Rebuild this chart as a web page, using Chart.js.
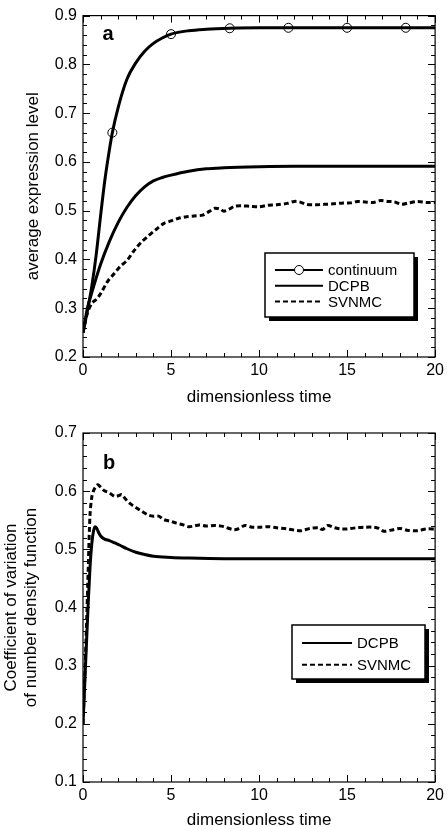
<!DOCTYPE html>
<html>
<head>
<meta charset="utf-8">
<script src="https://cdn.jsdelivr.net/npm/chart.js@4.4.1/dist/chart.umd.min.js"></script>
<style>
  html, body { margin: 0; padding: 0; background: #fff; overflow: hidden; }
  #wrapA { position: absolute; left: 0; top: 0; width: 448px; height: 413px; }
  #wrapB { position: absolute; left: 0; top: 413px; width: 448px; height: 413px; }
</style>
</head>
<body>
<div id="wrapA"><canvas id="chartA" width="448" height="413"></canvas></div>
<div id="wrapB"><canvas id="chartB" width="448" height="413"></canvas></div>
<script>
// ---------- Data ----------
const xTickLabels = [0, 5, 10, 15, 20];
const yTickLabelsA = [0.2, 0.3, 0.4, 0.5, 0.6, 0.7, 0.8, 0.9];
const yTickLabelsB = [0.1, 0.2, 0.3, 0.4, 0.5, 0.6, 0.7];

// Panel a: continuum
const contT = [0, 0.25, 0.5, 0.75, 1.0, 1.25, 1.5, 1.667, 2, 2.5, 3, 3.5, 4, 4.5, 5, 6, 7, 8.333, 10, 11.667, 15, 18.333, 20];
const contV = [0.25, 0.295, 0.345, 0.41, 0.49, 0.565, 0.625, 0.66, 0.712, 0.77, 0.803, 0.827, 0.843, 0.854, 0.862, 0.869, 0.872, 0.874, 0.875, 0.875, 0.875, 0.875, 0.875];
const contMarkerT = [1.667, 5, 8.333, 11.667, 15, 18.333];

// Panel a: DCPB
const dcpbAT = [0, 0.25, 0.5, 1, 1.5, 2, 2.5, 3, 3.5, 4, 4.5, 5, 6, 7, 8, 10, 12, 20];
const dcpbAV = [0.25, 0.30, 0.332, 0.39, 0.437, 0.476, 0.507, 0.531, 0.549, 0.561, 0.568, 0.573, 0.581, 0.586, 0.588, 0.590, 0.591, 0.591];

// Panel a: SVNMC
const svnAT = [0, 0.25, 0.5, 0.75, 1, 1.4, 1.7, 2.1, 2.5, 2.9, 3.3, 3.7, 4.1, 4.6, 5, 5.4, 5.8, 6.3, 6.8, 7.2, 7.5, 7.8, 8.0, 8.3, 8.6, 9.0, 9.5, 10, 10.5, 11, 11.6, 12.0, 12.3, 12.7, 13.2, 13.7, 14.2, 14.8, 15.2, 15.6, 16.0, 16.5, 16.9, 17.3, 17.7, 18.1, 18.5, 19.0, 19.5, 20];
const svnAV = [0.25, 0.29, 0.31, 0.318, 0.33, 0.355, 0.368, 0.385, 0.398, 0.418, 0.435, 0.448, 0.46, 0.474, 0.479, 0.484, 0.487, 0.489, 0.491, 0.499, 0.505, 0.503, 0.499, 0.503, 0.509, 0.51, 0.509, 0.508, 0.511, 0.512, 0.515, 0.519, 0.518, 0.513, 0.512, 0.513, 0.514, 0.516, 0.516, 0.519, 0.518, 0.517, 0.521, 0.519, 0.518, 0.513, 0.516, 0.519, 0.517, 0.517];

// Panel b: DCPB
const dcpbBT = [0, 0.1, 0.2, 0.3, 0.4, 0.5, 0.6, 0.7, 0.8, 0.9, 1.0, 1.2, 1.5, 1.8, 2.1, 2.5, 3, 3.5, 4, 5, 6, 8, 20];
const dcpbBV = [0.2, 0.27, 0.34, 0.41, 0.47, 0.51, 0.532, 0.539, 0.535, 0.528, 0.523, 0.518, 0.515, 0.511, 0.507, 0.501, 0.495, 0.491, 0.488, 0.486, 0.485, 0.484, 0.484];

// Panel b: SVNMC
const svnBT = [0, 0.1, 0.2, 0.3, 0.4, 0.5, 0.6, 0.75, 0.85, 1.0, 1.2, 1.5, 1.8, 2.0, 2.2, 2.4, 2.7, 3.0, 3.3, 3.7, 4.0, 4.3, 4.6, 5.0, 5.3, 5.7, 6.0, 6.3, 6.6, 7.0, 7.5, 8.0, 8.5, 8.8, 9.2, 9.6, 10.0, 10.5, 11.0, 11.6, 12.0, 12.4, 12.9, 13.4, 13.6, 13.9, 14.3, 14.7, 15.0, 15.5, 16.0, 16.5, 16.8, 17.1, 17.5, 18.0, 18.4, 19.0, 19.5, 20];
const svnBV = [0.2, 0.28, 0.37, 0.47, 0.56, 0.59, 0.601, 0.609, 0.611, 0.607, 0.601, 0.597, 0.591, 0.592, 0.594, 0.587, 0.578, 0.572, 0.566, 0.559, 0.557, 0.557, 0.551, 0.548, 0.545, 0.542, 0.539, 0.54, 0.542, 0.54, 0.541, 0.539, 0.534, 0.535, 0.541, 0.538, 0.538, 0.539, 0.537, 0.535, 0.533, 0.532, 0.536, 0.537, 0.534, 0.541, 0.537, 0.535, 0.535, 0.537, 0.538, 0.538, 0.536, 0.531, 0.533, 0.536, 0.533, 0.532, 0.535, 0.535];

// ---------- Helpers ----------
const pts = (ts, vs) => ts.map((t, i) => ({ x: t, y: vs[i] }));
const FONT = "'Liberation Sans', Arial, Helvetica, sans-serif";
Chart.defaults.font.family = FONT;
Chart.defaults.color = '#000';
Chart.defaults.animation = false;

const frameTicks = {
  id: 'frameTicks',
  afterDatasetsDraw(chart, args, o) {
    const { ctx, chartArea: { left, right, top, bottom }, scales: { x, y } } = chart;
    ctx.save();
    ctx.strokeStyle = '#000';
    ctx.lineWidth = 1.2;
    ctx.strokeRect(left, top, right - left, bottom - top);
    ctx.lineWidth = 1;
    ctx.beginPath();
    const nx = Math.round((x.max - x.min) / o.xMinor);
    for (let i = 0; i <= nx; i++) {
      const v = x.min + i * o.xMinor;
      const px = Math.round(x.getPixelForValue(v)) + 0.5;
      const major = Math.abs(v / o.xMajor - Math.round(v / o.xMajor)) < 1e-6;
      const len = major ? 7 : 4;
      ctx.moveTo(px, bottom); ctx.lineTo(px, bottom - len);
      ctx.moveTo(px, top); ctx.lineTo(px, top + len);
    }
    const ny = Math.round((y.max - y.min) / o.yMinor);
    for (let i = 0; i <= ny; i++) {
      const v = y.min + i * o.yMinor;
      const py = Math.round(y.getPixelForValue(v)) + 0.5;
      const r = (v - y.min) / o.yMajor;
      const major = Math.abs(r - Math.round(r)) < 1e-6;
      const len = major ? 7 : 4;
      ctx.moveTo(left, py); ctx.lineTo(left + len, py);
      ctx.moveTo(right, py); ctx.lineTo(right - len, py);
    }
    ctx.stroke();
    ctx.restore();
  },
  afterDraw(chart, args, o) {
    const { ctx } = chart;
    ctx.save();
    // panel letter
    ctx.fillStyle = '#000';
    ctx.font = 'bold 20px ' + FONT;
    ctx.textAlign = 'center';
    ctx.textBaseline = 'alphabetic';
    ctx.fillText(o.letter, o.letterX, o.letterY);
    // legend
    const L = o.legend;
    ctx.fillStyle = '#000';
    ctx.fillRect(L.x + 4, L.y + 4, L.w, L.h);
    ctx.fillStyle = '#fff';
    ctx.fillRect(L.x, L.y, L.w, L.h);
    ctx.strokeStyle = '#000';
    ctx.lineWidth = 1.5;
    ctx.strokeRect(L.x, L.y, L.w, L.h);
    ctx.font = '15px ' + FONT;
    ctx.textAlign = 'left';
    ctx.textBaseline = 'middle';
    L.order.forEach((di, k) => {
      const ds = chart.data.datasets[di];
      const ry = L.rowY0 + k * L.rowGap;
      ctx.beginPath();
      ctx.lineWidth = 2;
      ctx.setLineDash(ds.borderDash || []);
      ctx.moveTo(L.lx1, ry); ctx.lineTo(L.lx2, ry);
      ctx.stroke();
      ctx.setLineDash([]);
      if (ds.legendMarker) {
        ctx.beginPath();
        ctx.lineWidth = 1;
        ctx.fillStyle = '#fff';
        ctx.arc((L.lx1 + L.lx2) / 2, ry, 4.5, 0, Math.PI * 2);
        ctx.fill();
        ctx.stroke();
      }
      ctx.fillStyle = '#000';
      ctx.fillText(ds.label, L.tx, ry + 1);
    });
    ctx.restore();
  }
};

function baseScales(yMin, yMax, yTitle, yTitlePad, yTitleLH, xTitlePad, xHeight, yTickVals) {
  return {
    x: {
      type: 'linear', min: 0, max: 20,
      afterBuildTicks: (s) => { s.ticks = xTickLabels.map(v => ({ value: v })); },
      ticks: { padding: 4, font: { size: 16 }, callback: (v) => String(v), maxRotation: 0, autoSkip: false },
      grid: { display: false, drawTicks: false },
      border: { display: false },
      title: { display: true, text: 'dimensionless time', font: { size: 17, lineHeight: 1 }, padding: { top: 0, bottom: xTitlePad } },
      afterFit: (s) => { s.height = xHeight; }
    },
    y: {
      type: 'linear', min: yMin, max: yMax,
      afterBuildTicks: (s) => { s.ticks = yTickVals.map(v => ({ value: v })); },
      ticks: { padding: 6, font: { size: 16 }, callback: (v) => Number(v).toFixed(1), autoSkip: false },
      grid: { display: false, drawTicks: false },
      border: { display: false },
      title: { display: true, text: yTitle, font: { size: 17, lineHeight: yTitleLH }, padding: { top: yTitlePad, bottom: 0 } },
      afterFit: (s) => { s.width = 83; }
    }
  };
}

// ---------- Chart a ----------
new Chart(document.getElementById('chartA'), {
  type: 'line',
  data: {
    datasets: [
      {
        label: 'continuum', data: pts(contT, contV), borderColor: '#000', borderWidth: 3,
        cubicInterpolationMode: 'monotone', fill: false, legendMarker: true,
        pointRadius: (c) => contMarkerT.includes(contT[c.dataIndex]) ? 4.5 : 0,
        pointBorderWidth: 1, pointBorderColor: '#000', pointBackgroundColor: 'rgba(0,0,0,0)', pointStyle: 'circle'
      },
      {
        label: 'DCPB', data: pts(dcpbAT, dcpbAV), borderColor: '#000', borderWidth: 3,
        cubicInterpolationMode: 'monotone', fill: false, pointRadius: 0
      },
      {
        label: 'SVNMC', data: pts(svnAT, svnAV), borderColor: '#000', borderWidth: 3, borderDash: [5, 3],
        tension: 0.3, fill: false, pointRadius: 0
      }
    ]
  },
  options: {
    responsive: false,
    layout: { padding: { top: 8, right: 10, left: 0, bottom: 0 } },
    plugins: {
      legend: { display: false }, tooltip: { enabled: false },
      frameTicks: {
        xMinor: 1, xMajor: 5, yMinor: 0.02, yMajor: 0.1,
        letter: 'a', letterX: 108, letterY: 40,
        legend: { x: 265, y: 253, w: 149, h: 64, order: [0, 1, 2], rowY0: 270, rowGap: 15.7, lx1: 275, lx2: 323, tx: 328 }
      }
    },
    scales: baseScales(0.2, 0.9, 'average expression level', 23, 1.25, 7.5, 56, yTickLabelsA)
  },
  plugins: [frameTicks]
});

// ---------- Chart b ----------
new Chart(document.getElementById('chartB'), {
  type: 'line',
  data: {
    datasets: [
      {
        label: 'DCPB', data: pts(dcpbBT, dcpbBV), borderColor: '#000', borderWidth: 3,
        cubicInterpolationMode: 'monotone', fill: false, pointRadius: 0
      },
      {
        label: 'SVNMC', data: pts(svnBT, svnBV), borderColor: '#000', borderWidth: 3, borderDash: [5, 3],
        tension: 0.3, fill: false, pointRadius: 0
      }
    ]
  },
  options: {
    responsive: false,
    layout: { padding: { top: 20, right: 10, left: 0, bottom: 0 } },
    plugins: {
      legend: { display: false }, tooltip: { enabled: false },
      frameTicks: {
        xMinor: 1, xMajor: 5, yMinor: 0.02, yMajor: 0.1,
        letter: 'b', letterX: 109, letterY: 56,
        legend: { x: 292, y: 212, w: 133, h: 54, order: [0, 1], rowY0: 230, rowGap: 21.7, lx1: 302, lx2: 352, tx: 357 }
      }
    },
    scales: baseScales(0.1, 0.7, ['Coefficient of variation', 'of number density function'], 1, 1.18, -2.5, 44, yTickLabelsB)
  },
  plugins: [frameTicks]
});
</script>
</body>
</html>
